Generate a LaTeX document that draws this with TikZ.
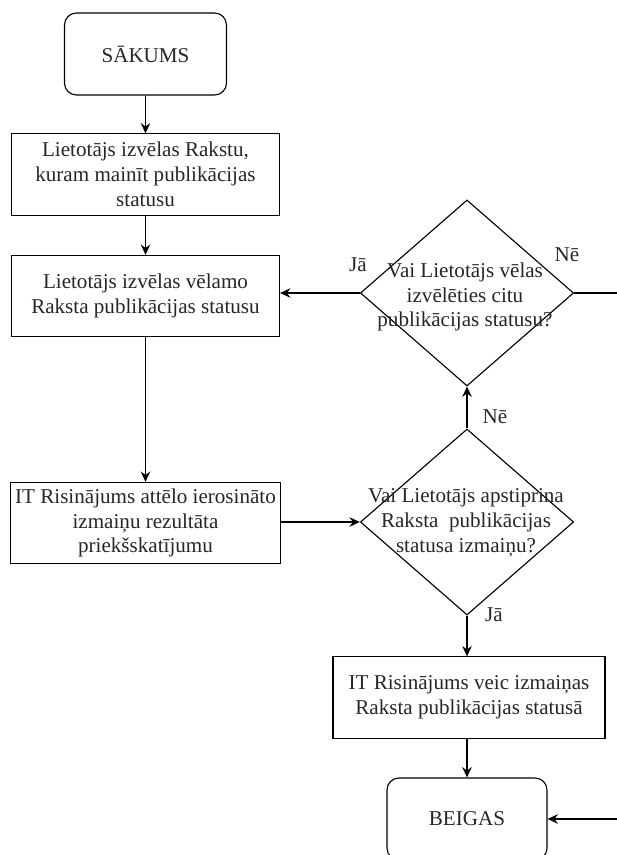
\documentclass[tikz,border=0pt]{standalone}
\usepackage{fontspec}
\setmainfont{Liberation Serif}
\usetikzlibrary{shapes.geometric,arrows.meta}

\begin{document}
\begin{tikzpicture}[
    x=0.025cm, y=-0.025cm,
    line width=0.8pt,
    >={Stealth[length=2.6mm,width=2.4mm,inset=0.9mm]},
    every node/.style={font=\fontsize{15}{17.7}\selectfont, align=center, text=black!85},
    terminal/.style={rectangle, rounded corners=0.3cm, draw, minimum width=4.05cm, minimum height=2.05cm},
    process/.style={rectangle, draw, minimum width=6.7cm, minimum height=2.03cm},
    decision/.style={diamond, draw, minimum width=5.33cm, minimum height=4.65cm, inner sep=0pt}
]
\path[use as bounding box] (0,0) rectangle (617,855);
\clip (0,0) rectangle (617,855);

% left column
\node[terminal] (start) at (145.5,54) {SĀKUMS};
\node[process] (choose) at (145.5,174.5) {Lietotājs izvēlas Rakstu,\\kuram mainīt publikācijas\\statusu};
\node[process] (wanted) at (145.5,296) {Lietotājs izvēlas vēlamo\\Raksta publikācijas statusu};
\node[process] (preview) at (145.5,523) {IT Risinājums attēlo ierosināto\\izmaiņu rezultāta\\priekšskatījumu};

% right column
\node[decision] (other) at (467,293) {};
\node (othertext) at (465,297) {Vai Lietotājs vēlas\\izvēlēties citu\\publikācijas statusu?};
\node[decision] (confirm) at (467,522) {};
\node (confirmtext) at (466,523) {Vai Lietotājs apstiprina\\Raksta~ publikācijas\\statusa izmaiņu?};
\node[process, minimum width=6.8cm] (apply) at (469,697.5) {IT Risinājums veic izmaiņas\\Raksta publikācijas statusā};
\node[terminal, minimum width=4cm] (finish) at (467,819) {BEIGAS};

\coordinate (otherout) at (617,293);
\coordinate (finishin) at (617,819);

\draw[->] (start) -- (choose);
\draw[->] (choose) -- (wanted);
\draw[->] (wanted) -- (preview);
\draw[->] (preview.east |- confirm.west) -- (confirm.west);
\draw[->] (confirm.north) -- (other.south);
\draw[->] (other.west) -- (wanted.east |- other.west);
\draw (other.east) -- (otherout);
\draw[->] (confirm.south) -- (confirm.south |- apply.north);
\draw[->] (finish.north |- apply.south) -- (finish.north);
\draw[->] (finishin) -- (finish.east);

% answers
\node (yesother) at (358,265) {Jā};
\node (noother) at (567,255) {Nē};
\node (noconfirm) at (495,417) {Nē};
\node (yesconfirm) at (494,615) {Jā};
\end{tikzpicture}
\end{document}
